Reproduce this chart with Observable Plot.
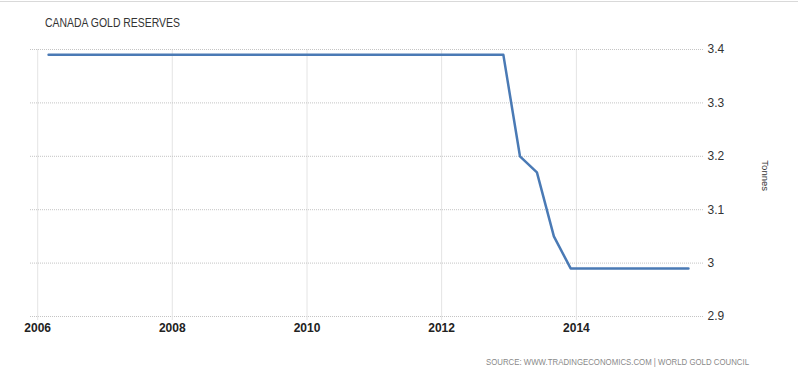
<!DOCTYPE html>
<html><head><meta charset="utf-8">
<script src="https://cdn.jsdelivr.net/npm/d3@7"></script>
<script src="https://cdn.jsdelivr.net/npm/@observablehq/plot@0.6"></script>
<style>
body{margin:0;background:#fff;width:803px;height:376px;overflow:hidden;position:relative;font-family:"Liberation Sans",Arial,sans-serif}
#border{position:absolute;left:0;top:1px;width:798px;height:0;border-top:1px solid #d9d9d9}
#title{position:absolute;left:45px;top:16px;font-size:13px;line-height:13px;font-family:"Liberation Sans",sans-serif;color:#333;white-space:nowrap;transform-origin:0 0}
#chart{position:absolute;left:0;top:38px}
#source{position:absolute;left:486px;top:357px;font-size:9.8px;line-height:10px;font-family:"Liberation Sans",sans-serif;color:#8a8a8a;white-space:nowrap;transform-origin:0 0}
</style></head><body>
<div id="border"></div>
<div id="title"></div>
<div id="chart"></div>
<div id="source"></div>
<script>
const dates = ["2006-03-01","2012-12-01","2013-03-01","2013-06-01","2013-09-01","2013-12-01","2015-09-01"];
const values = [3.39, 3.39, 3.2, 3.17, 3.05, 2.99, 2.99];
const xTicks = ["2006","2008","2010","2012","2014"];
const yTicks = [2.9, 3.0, 3.1, 3.2, 3.3, 3.4];
const title = "CANADA GOLD RESERVES";
const unit = "Tonnes";
const source = "SOURCE: WWW.TRADINGECONOMICS.COM | WORLD GOLD COUNCIL";

const data = dates.map((d, i) => ({date: new Date(d + "T00:00:00Z"), value: values[i]}));
const xTickDates = xTicks.map(y => new Date(y + "-01-01T00:00:00Z"));
const yFmt = d => String(+d.toFixed(1));

function fitText(id, text, targetWidth) {
  const el = document.getElementById(id);
  el.textContent = text;
  const w = el.getBoundingClientRect().width;
  if (w > 0) el.style.transform = `scaleX(${targetWidth / w})`;
}
fitText("title", title, 135);
fitText("source", source, 263);

const chart = Plot.plot({
  width: 803, height: 300,
  marginLeft: 30, marginRight: 99, marginTop: 11, marginBottom: 22,
  style: {background: "transparent", fontFamily: "Liberation Sans, Arial, sans-serif", overflow: "visible"},
  x: {type: "utc", domain: [new Date("2005-11-23T00:00:00Z"), new Date("2015-11-27T00:00:00Z")], label: null},
  y: {domain: [2.9, 3.4], label: null},
  marks: [
    Plot.gridX(xTickDates, {stroke: "#e4e4e4", strokeOpacity: 1, strokeWidth: 1}),
    Plot.gridY(yTicks, {stroke: "#c4c4c4", strokeOpacity: 1, strokeDasharray: "1,1"}),
    Plot.axisX(xTickDates, {tickSize: 4, tickPadding: 3, stroke: "#e4e4e4", fill: "#222", fontWeight: "bold", fontSize: 12, tickFormat: d3.utcFormat("%Y"), label: null}),
    Plot.axisY(yTicks, {anchor: "right", tickSize: 0, tickPadding: 3, fill: "#333", fontSize: 12, tickFormat: yFmt, label: null}),
    Plot.line(data, {x: "date", y: "value", stroke: "#4a7ab5", strokeWidth: 2.5}),
    Plot.text([unit], {frameAnchor: "right", dx: 61, dy: 8, rotate: 90, fontSize: 9.5, fill: "#333", text: d => d})
  ]
});
document.getElementById("chart").appendChild(chart);
</script>
</body></html>
